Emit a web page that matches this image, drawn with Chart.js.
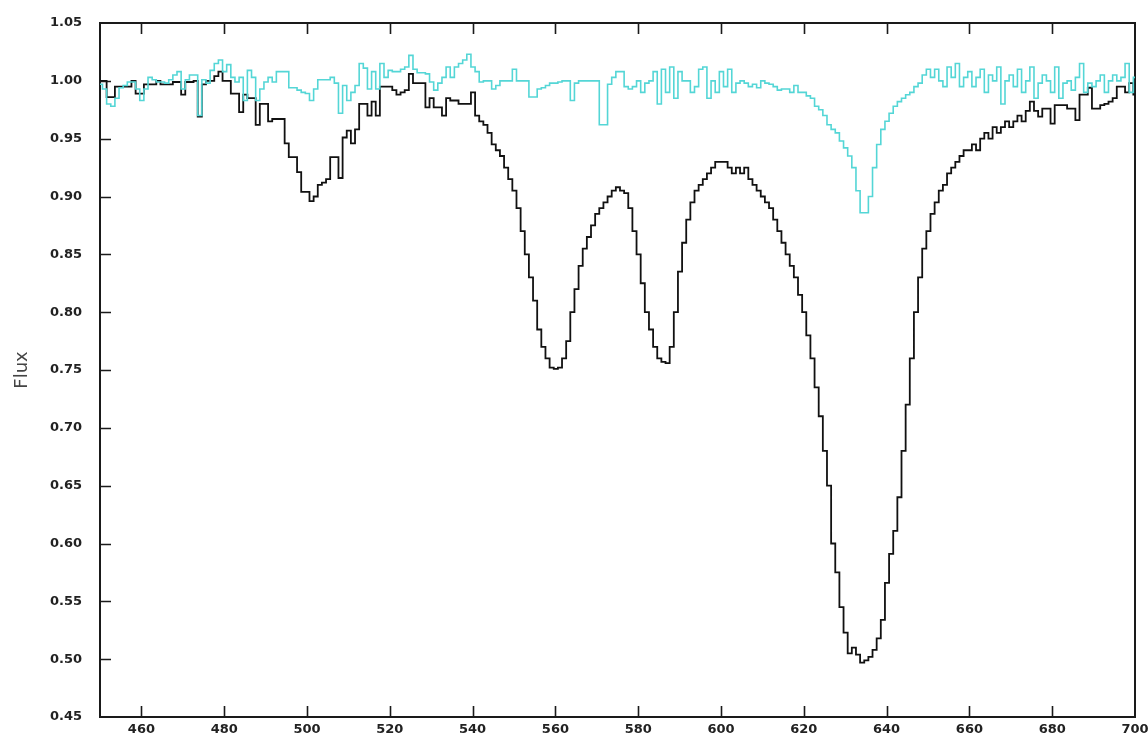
<!DOCTYPE html>
<html><head><meta charset="utf-8">
<script src="https://cdn.jsdelivr.net/npm/chart.js@4.4.1/dist/chart.umd.min.js"></script>
<style>html,body{margin:0;padding:0;background:#fff}#wrap{width:1148px;height:740px}</style>
</head><body><div id="wrap"><canvas id="c" width="1148" height="740"></canvas></div>
<script>
// spectrum bins: first bin's left edge and bin width (wavelength units)
const binStart = 449.6;
const binWidth = 1.0;
const xTicks = [460, 480, 500, 520, 540, 560, 580, 600, 620, 640, 660, 680, 700];
const yTicks = [0.45, 0.50, 0.55, 0.60, 0.65, 0.70, 0.75, 0.80, 0.85, 0.90, 0.95, 1.00, 1.05];
const yTitle = 'Flux';

// black spectrum, one value per bin (450 ... 700)
const blackFlux = [
  1.000, 1.000, 0.986, 0.986, 0.995, 0.995, 0.995, 0.995, 1.000, 0.989,
  0.989, 0.997, 0.997, 0.997, 1.000, 0.997, 0.997, 0.997, 0.999, 0.999,
  0.988, 0.999, 0.999, 1.000, 0.969, 0.997, 1.000, 1.000, 1.004, 1.008,
  1.000, 1.000, 0.989, 0.989, 0.973, 0.988, 0.985, 0.985, 0.962, 0.980,
  0.980, 0.965, 0.967, 0.967, 0.967, 0.946, 0.934, 0.934, 0.921, 0.904,
  0.904, 0.896, 0.900, 0.910, 0.912, 0.915, 0.934, 0.934, 0.916, 0.951,
  0.957, 0.946, 0.958, 0.980, 0.980, 0.970, 0.982, 0.970, 0.995, 0.995,
  0.995, 0.992, 0.988, 0.990, 0.992, 1.006, 0.998, 0.998, 0.998, 0.977,
  0.985, 0.977, 0.977, 0.970, 0.985, 0.983, 0.983, 0.980, 0.980, 0.980,
  0.990, 0.970, 0.965, 0.962, 0.955, 0.945, 0.940, 0.935, 0.925, 0.915,
  0.905, 0.890, 0.870, 0.850, 0.830, 0.810, 0.785, 0.770, 0.760, 0.752,
  0.751, 0.752, 0.760, 0.775, 0.800, 0.820, 0.840, 0.855, 0.865, 0.875,
  0.885, 0.890, 0.895, 0.900, 0.905, 0.908, 0.905, 0.903, 0.890, 0.870,
  0.850, 0.825, 0.800, 0.785, 0.770, 0.760, 0.757, 0.756, 0.770, 0.800,
  0.835, 0.860, 0.880, 0.895, 0.905, 0.910, 0.915, 0.920, 0.925, 0.930,
  0.930, 0.930, 0.925, 0.920, 0.925, 0.920, 0.925, 0.915, 0.910, 0.905,
  0.900, 0.895, 0.890, 0.880, 0.870, 0.860, 0.850, 0.840, 0.830, 0.815,
  0.800, 0.780, 0.760, 0.735, 0.710, 0.680, 0.650, 0.600, 0.575, 0.545,
  0.523, 0.505, 0.510, 0.504, 0.497, 0.499, 0.502, 0.508, 0.518, 0.534,
  0.566, 0.591, 0.611, 0.640, 0.680, 0.720, 0.760, 0.800, 0.830, 0.855,
  0.870, 0.885, 0.895, 0.905, 0.910, 0.920, 0.925, 0.930, 0.935, 0.940,
  0.940, 0.945, 0.940, 0.950, 0.955, 0.950, 0.960, 0.955, 0.960, 0.965,
  0.960, 0.965, 0.970, 0.965, 0.974, 0.982, 0.974, 0.969, 0.976, 0.976,
  0.963, 0.979, 0.979, 0.979, 0.976, 0.976, 0.966, 0.988, 0.988, 0.994,
  0.976, 0.976, 0.979, 0.980, 0.982, 0.985, 0.995, 0.995, 0.990, 0.998,
  0.988
];

// cyan spectrum, one value per bin (450 ... 700)
const cyanFlux = [
  0.997, 0.993, 0.980, 0.978, 0.985, 0.994, 0.996, 0.999, 0.999, 0.993,
  0.983, 0.993, 1.003, 1.001, 0.999, 0.999, 0.998, 1.001, 1.005, 1.008,
  0.993, 1.001, 1.005, 1.005, 0.970, 1.001, 0.998, 1.009, 1.015, 1.018,
  1.008, 1.014, 1.003, 0.999, 1.003, 0.983, 1.009, 1.003, 0.983, 0.993,
  0.999, 1.003, 0.999, 1.008, 1.008, 1.008, 0.994, 0.994, 0.992, 0.990,
  0.989, 0.983, 0.993, 1.001, 1.001, 1.001, 1.003, 0.998, 0.972, 0.996,
  0.983, 0.990, 0.996, 1.015, 1.011, 0.993, 1.008, 0.993, 1.015, 1.003,
  1.009, 1.008, 1.008, 1.010, 1.012, 1.022, 1.010, 1.007, 1.007, 1.006,
  0.999, 0.992, 0.998, 1.003, 1.012, 1.003, 1.012, 1.015, 1.018, 1.023,
  1.012, 1.008, 0.999, 1.000, 1.000, 0.993, 0.996, 1.000, 1.000, 1.000,
  1.010, 1.000, 1.000, 1.000, 0.986, 0.986, 0.993, 0.994, 0.996, 0.998,
  0.998, 0.999, 1.000, 1.000, 0.983, 0.998, 1.000, 1.000, 1.000, 1.000,
  1.000, 0.962, 0.962, 0.997, 1.003, 1.008, 1.008, 0.995, 0.993, 0.995,
  1.000, 0.990, 0.998, 1.000, 1.008, 0.980, 1.010, 0.990, 1.012, 0.985,
  1.008, 1.000, 1.000, 0.990, 0.995, 1.010, 1.012, 0.985, 1.000, 0.990,
  1.008, 0.995, 1.010, 0.990, 0.998, 1.000, 0.998, 0.995, 0.997, 0.994,
  1.000, 0.998, 0.997, 0.995, 0.992, 0.993, 0.993, 0.990, 0.996, 0.990,
  0.990, 0.987, 0.985, 0.978, 0.975, 0.970, 0.962, 0.958, 0.955, 0.948,
  0.942, 0.935, 0.925, 0.905, 0.886, 0.886, 0.900, 0.925, 0.945, 0.958,
  0.965, 0.972, 0.978, 0.982, 0.985, 0.988, 0.990, 0.995, 0.998, 1.005,
  1.010, 1.003, 1.010, 1.000, 0.995, 1.012, 1.003, 1.015, 0.995, 1.003,
  1.008, 0.995, 1.003, 1.010, 0.990, 1.005, 1.000, 1.012, 0.980, 1.000,
  1.005, 0.995, 1.010, 0.990, 1.000, 1.012, 0.985, 0.998, 1.005, 1.000,
  0.990, 1.012, 0.985, 0.998, 1.000, 0.992, 1.003, 1.015, 0.990, 0.998,
  0.995, 1.000, 1.005, 0.990, 1.000, 1.005, 1.000, 1.003, 1.015, 0.990,
  1.003
];

function stepPoints(values) {
  const pts = values.map((v, i) => ({ x: binStart + i * binWidth, y: v }));
  pts.push({ x: binStart + values.length * binWidth, y: values[values.length - 1] });
  return pts;
}

const AXIS_COLOR = '#1a1a1a';
const LABEL_FONT = { family: 'DejaVu Sans', size: 13, weight: 'bold' };

const innerTicks = {
  id: 'innerTicks',
  afterDraw(chart) {
    const { ctx, chartArea: a, scales } = chart;
    ctx.save();
    ctx.strokeStyle = AXIS_COLOR;
    ctx.lineWidth = 1.6;
    ctx.beginPath();
    xTicks.forEach(v => {
      const px = Math.round(scales.x.getPixelForValue(v)) + 0.5;
      if (px > a.right - 2) return;
      ctx.moveTo(px, a.bottom); ctx.lineTo(px, a.bottom - 11);
      ctx.moveTo(px, a.top); ctx.lineTo(px, a.top + 11);
    });
    yTicks.forEach(v => {
      const py = Math.round(scales.y.getPixelForValue(v)) + 0.5;
      if (py < a.top + 2 || py > a.bottom - 2) return;
      ctx.moveTo(a.left, py); ctx.lineTo(a.left + 11, py);
    });
    ctx.stroke();
    ctx.restore();
  }
};

function noPad(s) { s.paddingLeft = 0; s.paddingRight = 0; s.paddingTop = 0; s.paddingBottom = 0; }

new Chart(document.getElementById('c'), {
  type: 'line',
  data: {
    datasets: [
      {
        label: 'cyan', data: stepPoints(cyanFlux), stepped: true,
        borderColor: 'rgb(84,214,214)', borderWidth: 1.6, pointRadius: 0, fill: false
      },
      {
        label: 'black', data: stepPoints(blackFlux), stepped: true,
        borderColor: '#111111', borderWidth: 1.8, pointRadius: 0, fill: false
      }
    ]
  },
  options: {
    responsive: false, animation: false, devicePixelRatio: 1,
    layout: { padding: 0, autoPadding: false },
    plugins: { legend: { display: false }, tooltip: { enabled: false } },
    scales: {
      x: {
        type: 'linear', position: 'bottom', min: 450, max: 700,
        afterBuildTicks: s => { s.ticks = xTicks.map(v => ({ value: v })); },
        afterFit: s => { s.height = 23; noPad(s); },
        grid: { display: false, drawTicks: false },
        border: { display: true, color: AXIS_COLOR, width: 2 },
        ticks: { font: LABEL_FONT, color: '#222', padding: 5, maxRotation: 0, autoSkip: false,
                 callback: v => String(v) }
      },
      xTop: {
        type: 'linear', position: 'top', min: 450, max: 700,
        afterFit: s => { s.height = 23; noPad(s); },
        grid: { display: false, drawTicks: false },
        border: { display: true, color: AXIS_COLOR, width: 2 },
        ticks: { display: false }
      },
      y: {
        type: 'linear', position: 'left', min: 0.45, max: 1.05,
        afterBuildTicks: s => { s.ticks = yTicks.map(v => ({ value: v })); },
        afterFit: s => { s.width = 100; noPad(s); },
        grid: { display: false, drawTicks: false },
        border: { display: true, color: AXIS_COLOR, width: 2 },
        ticks: { font: LABEL_FONT, color: '#222', padding: 18, autoSkip: false,
                 callback: v => Number(v).toFixed(2) },
        title: { display: true, text: yTitle, color: '#444',
                 font: { family: 'DejaVu Sans', size: 18 }, padding: { top: 12, bottom: 0 } }
      },
      yRight: {
        type: 'linear', position: 'right', min: 0.45, max: 1.05,
        afterFit: s => { s.width = 13; noPad(s); },
        grid: { display: false, drawTicks: false },
        border: { display: true, color: AXIS_COLOR, width: 2 },
        ticks: { display: false }
      }
    }
  },
  plugins: [innerTicks]
});
</script>
</body></html>
